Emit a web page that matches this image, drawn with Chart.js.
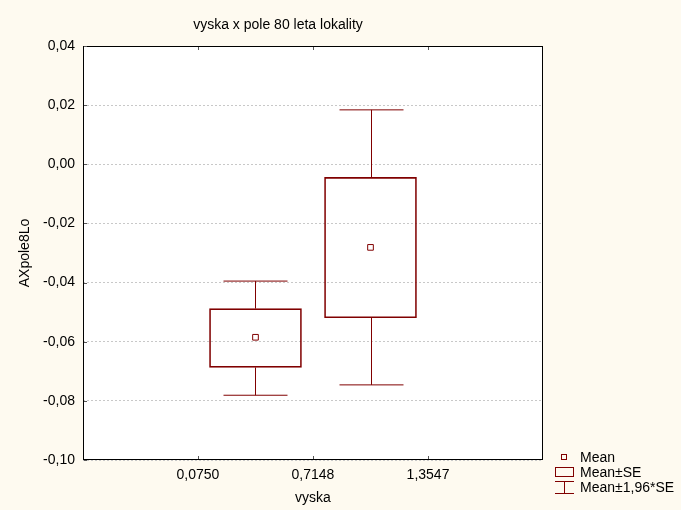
<!DOCTYPE html>
<html>
<head>
<meta charset="utf-8">
<script src="https://cdn.jsdelivr.net/npm/chart.js@4.4.1/dist/chart.umd.min.js"></script>
<style>
  html, body { margin: 0; padding: 0; background: #fefaf0; }
  canvas { display: block; }
</style>
</head>
<body>
<canvas id="boxChart" width="681" height="510"></canvas>
<script>
// vyska bins (centre of each interval) and tick marks on the x axis
const binCenters = [0.3949, 1.0348]
const xTicks = [0.0750, 0.7148, 1.3547]
const yTicks = [-0.10, -0.08, -0.06, -0.04, -0.02, 0.00, 0.02, 0.04]

// AXpole8Lo statistics per bin
const means = [-0.0585, -0.0281]
const seLow = [-0.0687, -0.0519]
const seHigh = [-0.0488, -0.0044]
const ciLow = [-0.0781, -0.0746]
const ciHigh = [-0.0395, 0.0184]

const RED = "#800000"
const FONT = "'Liberation Sans', Arial, sans-serif"

const comma = (v, d) => v.toFixed(d).replace(".", ",")

// white plot area on cream page
const background = {
  id: "background",
  beforeDraw(chart) {
    const { ctx, chartArea: a } = chart
    ctx.save()
    ctx.fillStyle = "#fefaf0"
    ctx.fillRect(0, 0, chart.width, chart.height)
    ctx.fillStyle = "#ffffff"
    ctx.fillRect(a.left, a.top, a.right - a.left, a.bottom - a.top)
    ctx.restore()
  },
}

// whiskers: stem from box edge to mean±1,96*SE with a cap
const whiskers = {
  id: "whiskers",
  afterDatasetsDraw(chart) {
    const { ctx, scales } = chart
    const capHalf = 32
    ctx.save()
    ctx.strokeStyle = RED
    ctx.lineWidth = 1
    binCenters.forEach((c, i) => {
      const x = Math.round(scales.x.getPixelForValue(c)) + 0.5
      const segs = [[seHigh[i], ciHigh[i]], [seLow[i], ciLow[i]]]
      segs.forEach(([from, to]) => {
        const y0 = scales.y.getPixelForValue(from)
        const y1 = scales.y.getPixelForValue(to)
        ctx.beginPath()
        ctx.moveTo(x, y0)
        ctx.lineTo(x, y1)
        ctx.moveTo(x - capHalf, y1)
        ctx.lineTo(x + capHalf, y1)
        ctx.stroke()
      })
    })
    ctx.restore()
  },
}

// frame, inward tick marks, titles and legend
const decorations = {
  id: "decorations",
  afterDraw(chart) {
    const { ctx, chartArea: a, scales } = chart
    ctx.save()
    ctx.strokeStyle = "#000"
    ctx.lineWidth = 1
    ctx.strokeRect(Math.round(a.left) + 0.5, Math.round(a.top) + 0.5,
      Math.round(a.right - a.left) - 1, Math.round(a.bottom - a.top) - 1)

    ctx.strokeStyle = "#555"
    ctx.beginPath()
    xTicks.forEach((t) => {
      const x = Math.round(scales.x.getPixelForValue(t)) + 0.5
      ctx.moveTo(x, a.top + 1)
      ctx.lineTo(x, a.top + 4)
      ctx.moveTo(x, a.bottom - 1)
      ctx.lineTo(x, a.bottom - 4)
    })
    yTicks.forEach((t) => {
      const y = Math.round(scales.y.getPixelForValue(t)) + 0.5
      ctx.moveTo(a.left + 1, y)
      ctx.lineTo(a.left + 4, y)
    })
    ctx.stroke()

    ctx.fillStyle = "#000"
    ctx.font = "14px " + FONT
    ctx.textAlign = "center"
    ctx.textBaseline = "middle"
    ctx.fillText("vyska x pole 80 leta lokality", 278, 25)
    ctx.fillText("vyska", (a.left + a.right) / 2, 498)

    ctx.save()
    ctx.translate(25, (a.top + a.bottom) / 2)
    ctx.rotate(-Math.PI / 2)
    ctx.fillText("AXpole8Lo", 0, 0)
    ctx.restore()

    // legend
    const lx = 555
    ctx.strokeStyle = RED
    ctx.strokeRect(561.5, 454.5, 5, 5)
    ctx.strokeRect(lx + 0.5, 467.5, 18, 9)
    ctx.beginPath()
    ctx.moveTo(lx, 481.5)
    ctx.lineTo(lx + 19, 481.5)
    ctx.moveTo(lx + 9.5, 481.5)
    ctx.lineTo(lx + 9.5, 493.5)
    ctx.moveTo(lx, 493.5)
    ctx.lineTo(lx + 19, 493.5)
    ctx.stroke()
    ctx.textAlign = "left"
    ctx.fillText("Mean", 580, 458)
    ctx.fillText("Mean±SE", 580, 473)
    ctx.fillText("Mean±1,96*SE", 580, 488)
    ctx.restore()
  },
}

new Chart(document.getElementById("boxChart"), {
  data: {
    datasets: [
      {
        type: "bar",
        label: "Mean±SE",
        data: binCenters.map((x, i) => ({ x, y: [seLow[i], seHigh[i]] })),
        barThickness: 92,
        backgroundColor: "rgba(255,255,255,0)",
        borderColor: RED,
        borderWidth: 1,
        borderSkipped: false,
        order: 2,
      },
      {
        type: "scatter",
        label: "Mean",
        data: binCenters.map((x, i) => ({ x, y: means[i] })),
        pointStyle: "rect",
        pointRadius: 4,
        pointHoverRadius: 4,
        backgroundColor: "#ffffff",
        borderColor: RED,
        borderWidth: 1,
        order: 1,
      },
    ],
  },
  options: {
    responsive: false,
    animation: false,
    events: [],
    layout: { padding: { left: 0, right: 138, top: 46, bottom: 0 } },
    plugins: {
      legend: { display: false },
      title: { display: false },
      tooltip: { enabled: false },
    },
    scales: {
      x: {
        type: "linear",
        offset: false,
        min: -0.5648,
        max: 1.9945,
        afterBuildTicks: (scale) => {
          scale.ticks = xTicks.map((v) => ({ value: v }))
        },
        afterFit: (scale) => {
          scale.height = 50
        },
        grid: { display: false, drawTicks: false, offset: false },
        border: { display: false },
        ticks: {
          padding: 7,
          color: "#000",
          font: { family: FONT, size: 14 },
          callback: (v) => comma(v, 4),
        },
      },
      y: {
        min: -0.1,
        max: 0.04,
        afterBuildTicks: (scale) => {
          scale.ticks = yTicks.map((v) => ({ value: v }))
        },
        afterFit: (scale) => {
          scale.width = 83
        },
        grid: { color: "#c8c8c8", drawTicks: false },
        border: { display: false, dash: [2, 2] },
        ticks: {
          padding: 8,
          color: "#000",
          font: { family: FONT, size: 14 },
          callback: (v) => comma(v, 2),
        },
      },
    },
  },
  plugins: [background, whiskers, decorations],
})
</script>
</body>
</html>
